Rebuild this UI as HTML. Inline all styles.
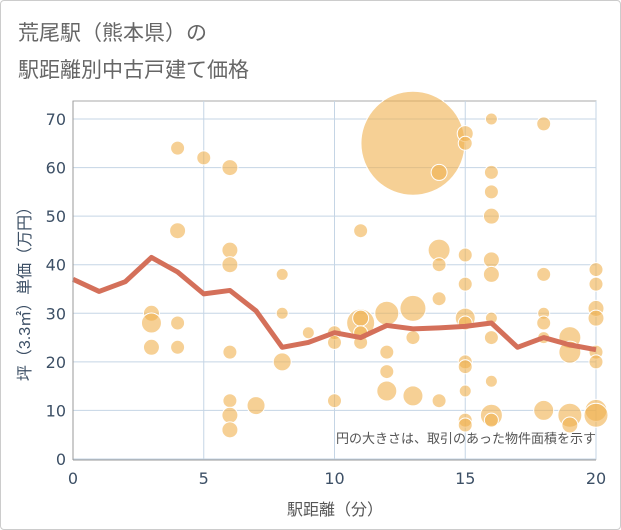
<!DOCTYPE html>
<html><head><meta charset="utf-8"><style>
body{margin:0;background:#fff;font-family:"Liberation Sans","Noto Sans CJK JP",sans-serif;}
#wrap{position:relative;width:619px;height:528px;border:1px solid #ccc;border-radius:4px;}
</style></head><body>
<div id="wrap">
<svg id="chart" width="621" height="530" style="position:absolute;left:-1px;top:-1px">
<text x="18" y="40" font-size="21" fill="#666">荒尾駅（熊本県）の</text>
<text x="18" y="77" font-size="21" fill="#666">駅距離別中古戸建て価格</text>
<g id="grid"></g><g id="bubbles"></g><g id="line"></g><g id="axes"></g>
<text x="596" y="443" font-size="13" fill="#555" text-anchor="end">円の大きさは、取引のあった物件面積を示す</text>
<text x="335" y="515" font-size="16" fill="#555" text-anchor="middle">駅距離（分）</text>
<text transform="translate(30,290) rotate(-90)" font-size="16" fill="#3d5066" text-anchor="middle">坪（3.3㎡）単価（万円）</text>
</svg>
</div>
<script>
const xTicks=[0,5,10,15,20];
const yTicks=[0,10,20,30,40,50,60,70];
const lineX=[0,1,2,3,4,5,6,7,8,9,10,11,12,13,14,15,16,17,18,19,20];
const lineY=[37,34.5,36.5,41.5,38.5,34,34.7,30.5,23,24,26,25,27.5,26.8,27,27.3,28,23,25,23.5,22.5];
const bubX=[3,3,3,4,4,4,4,5,6,6,6,6,6,6,6,7,8,8,8,9,10,10,10,11,11,11,11,11,12,12,12,12,13,13,13,13,14,14,14,14,14,15,15,15,15,15,15,15,15,15,15,15,16,16,16,16,16,16,16,16,16,16,16,18,18,18,18,18,18,19,19,19,19,20,20,20,20,20,20,20,20];
const bubY=[30,28,23,64,47,28,23,62,60,43,40,22,12,9,6,11,38,30,20,26,26,24,12,47,28,29,26,24,30,22,18,14,65,31,25,13,59,43,40,33,12,67,65,42,36,29,28,20,19,14,8,7,70,59,55,50,41,38,29,25,16,9,8,69,38,30,28,25,10,25,22,9,7,39,36,31,29,22,20,10,9];
const bubSize=[8,10,8,7,8,7,7,7,8,8,8,7,7,8,8,9,6,6,9,6,7,7,7,7,14,8,7,7,12,7,7,10,52,13,7,10,8,11,7,7,7,8,7,7,7,10,7,7,7,6,7,7,6,7,7,8,8,8,6,7,6,11,7,7,7,6,7,6,10,11,11,12,8,7,7,8,8,7,7,11,12];
const L=73,R=596,T=119,B=459;
const sx=v=>L+(v-0)/(20-0)*(R-L);
const sy=v=>B-(v-0)/(70-0)*(B-T);
const NS='http://www.w3.org/2000/svg';
function mk(tag,attrs,parent){const e=document.createElementNS(NS,tag);for(const k in attrs)e.setAttribute(k,attrs[k]);parent.appendChild(e);return e;}
const grid=document.getElementById('grid'),axes=document.getElementById('axes'),bub=document.getElementById('bubbles'),ln=document.getElementById('line');
mk('rect',{x:L,y:101,width:R-L,height:B-101,fill:'#fff',stroke:'#aaa'},grid);
yTicks.forEach(t=>{
 const g=mk('line',{x1:L,x2:R,y1:sy(t),y2:sy(t),stroke:'#c5d5e5','stroke-width':1},grid);
 
 
 const tx=mk('text',{x:L-7,y:sy(t)+6,'font-size':16,fill:'#3d5066','text-anchor':'end','font-family':'DejaVu Sans, sans-serif'},axes);
 tx.textContent=t;
 
 
});
xTicks.forEach(t=>{
 const g=mk('line',{x1:sx(t),x2:sx(t),y1:101,y2:B,stroke:'#c5d5e5','stroke-width':1},grid);
 
 
 const tx=mk('text',{x:sx(t),y:B+25,'font-size':16,fill:'#3d5066','text-anchor':'middle','font-family':'DejaVu Sans, sans-serif'},axes);
 tx.textContent=t;
 
 
});
mk('line',{x1:L,x2:R,y1:B+1,y2:B+1,stroke:'#999'},axes);
mk('line',{x1:L,x2:L,y1:101,y2:B+1,stroke:'#999'},axes);
bubX.forEach((x,i)=>{
 const c=mk('circle',{cx:sx(x),cy:sy(bubY[i]),r:bubSize[i],fill:'#f0b04f','fill-opacity':0.6,stroke:'#fff','stroke-width':1},bub);
 
 
});
const p=mk('polyline',{points:lineX.map((x,i)=>sx(x)+','+sy(lineY[i])).join(' '),fill:'none',stroke:'#d4705a','stroke-width':5,'stroke-linejoin':'round'},ln);


</script>
</body></html>
